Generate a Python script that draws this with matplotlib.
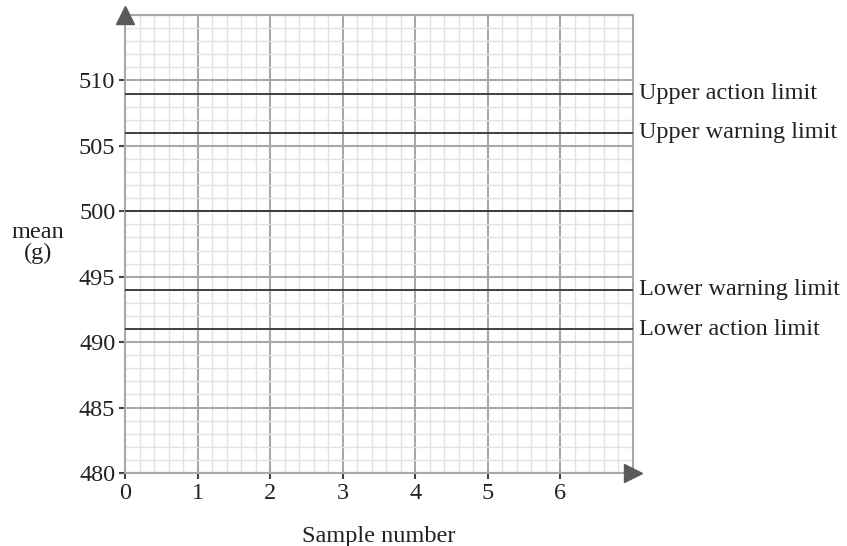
import numpy as np
import matplotlib.pyplot as plt

# Control limits (g)
limit_values = [509, 506, 500, 494, 491]
limit_labels = ["Upper action limit", "Upper warning limit", "",
                "Lower warning limit", "Lower action limit"]

x_ticks = [0, 1, 2, 3, 4, 5, 6]
y_ticks = [480, 485, 490, 495, 500, 505, 510]
x_max = 7
y_min, y_max = 480, 515

plt.rcParams['font.family'] = ['Liberation Serif', 'DejaVu Serif']
FS = 17.5

fig = plt.figure(figsize=(8.47, 5.46), dpi=100)
ax = fig.add_axes([0.1476, 0.1337, 0.7473 - 0.1476, 0.9725 - 0.1337])

ax.set_xlim(0, x_max)
ax.set_ylim(y_min, y_max)

# graph paper grid
ax.set_xticks(x_ticks)
ax.set_yticks(y_ticks)
ax.set_xticks(np.arange(0, x_max + 0.01, 0.2), minor=True)
ax.set_yticks(np.arange(y_min, y_max + 0.01, 1), minor=True)
ax.grid(which='minor', color='#e2e2e2', linewidth=1.0)
ax.grid(which='major', color='#a8a8a8', linewidth=1.5)
ax.set_axisbelow(True)

for side in ['left', 'bottom', 'top', 'right']:
    ax.spines[side].set_color('#a8a8a8')
    ax.spines[side].set_linewidth(1.5)

ax.tick_params(which='minor', length=0)
ax.tick_params(which='major', length=4, width=1.5, color='#444444',
               labelsize=FS, labelcolor='#222222', pad=3)

# limit lines
for val, lab in zip(limit_values, limit_labels):
    ax.plot([0, x_max], [val, val], color='#333333', linewidth=1.3, zorder=3)
    if lab:
        ax.annotate(lab, xy=(1, val), xycoords=('axes fraction', 'data'),
                    xytext=(4, 0), textcoords='offset points',
                    va='center', ha='left', fontsize=FS, color='#222222',
                    annotation_clip=False)

# arrow heads
ax.plot([0], [y_max], marker='^', markersize=13, color='#5a5a5a',
        clip_on=False, zorder=5)
ax.plot([x_max], [y_min], marker='>', markersize=13, color='#5a5a5a',
        clip_on=False, zorder=5)

ax.set_xlabel('Sample number', fontsize=FS, color='#222222', labelpad=16)
fig.text(0.045, 0.555, 'mean\n(g)', ha='center', va='center',
         fontsize=FS, color='#222222', linespacing=0.95)

fig.savefig('out.png', dpi=100)
